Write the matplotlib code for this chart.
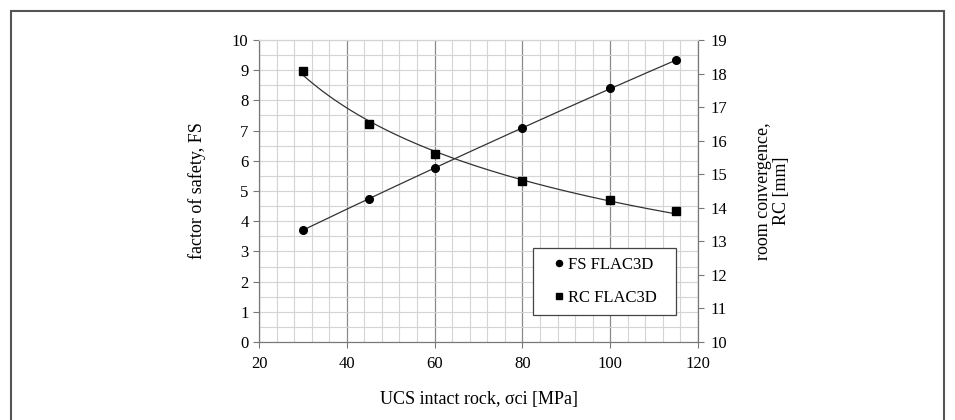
import numpy as np
import matplotlib
matplotlib.use("Agg")
import matplotlib.pyplot as plt
from matplotlib.patches import Rectangle
from matplotlib.ticker import MultipleLocator

# data
ucs = [30, 45, 60, 80, 100, 115]
fs_flac = [3.70, 4.75, 5.76, 7.08, 8.40, 9.33]
rc_flac = [18.08, 16.51, 15.59, 14.79, 14.22, 13.89]

plt.rcParams['font.family'] = ['Liberation Serif', 'DejaVu Serif']

fig = plt.figure(figsize=(9.55, 4.2), dpi=100)
ax = fig.add_axes([259/955, 1 - 342/420, (698-259)/955, (342-40)/420])
ax2 = ax.twinx()

# outer frame of the figure panel
fig.patches.append(Rectangle((11/955, -0.05), (944-11)/955, 1.05 - 11/420,
                             transform=fig.transFigure, fill=False,
                             edgecolor='#555555', linewidth=1.5, clip_on=False))

ax.set_xlim(20, 120)
ax.set_ylim(0, 10)
ax2.set_ylim(10, 19)

ax.xaxis.set_major_locator(MultipleLocator(20))
ax.xaxis.set_minor_locator(MultipleLocator(4))
ax.yaxis.set_major_locator(MultipleLocator(1))
ax.yaxis.set_minor_locator(MultipleLocator(0.5))
ax2.yaxis.set_major_locator(MultipleLocator(1))

ax.grid(True, which='minor', color='#d4d4d4', linewidth=0.8)
ax.grid(True, which='major', axis='y', color='#d4d4d4', linewidth=0.8)
ax.grid(True, which='major', axis='x', color='#8a8a8a', linewidth=0.9)
ax.set_axisbelow(True)

for a in (ax, ax2):
    for s in ('left', 'right', 'bottom'):
        a.spines[s].set_color('#777777')
    a.spines['top'].set_color('#d4d4d4')
ax.tick_params(which='minor', length=0)
ax.tick_params(which='major', direction='out', length=4, color='#777777',
               labelsize=12)
ax.tick_params(axis='x', pad=6)
ax2.tick_params(which='major', direction='out', length=4, color='#777777',
                labelsize=12, pad=5)

# trendlines fitted to the data
x = np.array(ucs, dtype=float)
xs = np.linspace(x.min(), x.max(), 200)
fs_fit = np.polyfit(x, fs_flac, 2)
ax.plot(xs, np.polyval(fs_fit, xs), color='#333333', linewidth=0.9)
rc_fit = np.polyfit(np.log(x), np.log(rc_flac), 1)
ax2.plot(xs, np.exp(np.polyval(rc_fit, np.log(xs))), color='#333333', linewidth=0.9)

ax.plot(ucs, fs_flac, 'o', color='black', markersize=5.5, label='FS FLAC3D')
ax2.plot(ucs, rc_flac, 's', color='black', markersize=5.5, label='RC FLAC3D')

ax.set_xlabel('UCS intact rock, σci [MPa]', fontsize=13, labelpad=14)
ax.set_ylabel('factor of safety, FS', fontsize=13, labelpad=19)
ax2.set_ylabel('room convergence,\nRC [mm]', fontsize=13, labelpad=20,
               rotation=90, linespacing=1.1)

# legend box
bx, by, bw, bh = (533-259)/439, (342-315)/302, (676-533)/439, (315-248)/302
ax2.add_patch(Rectangle((bx, by), bw, bh, transform=ax2.transAxes,
                        facecolor='white', edgecolor='#444444',
                        linewidth=0.9, zorder=5))
h1, l1 = ax.get_legend_handles_labels()
h2, l2 = ax2.get_legend_handles_labels()
leg = ax2.legend(h1 + h2, l1 + l2, loc='center',
                 bbox_to_anchor=(bx + bw / 2, by + bh / 2),
                 fontsize=12, frameon=False, handletextpad=0.15,
                 handlelength=0.8, labelspacing=1.0, borderpad=0,
                 borderaxespad=0, markerscale=0.8)
leg.set_zorder(6)

fig.savefig('out.png', dpi=100)
